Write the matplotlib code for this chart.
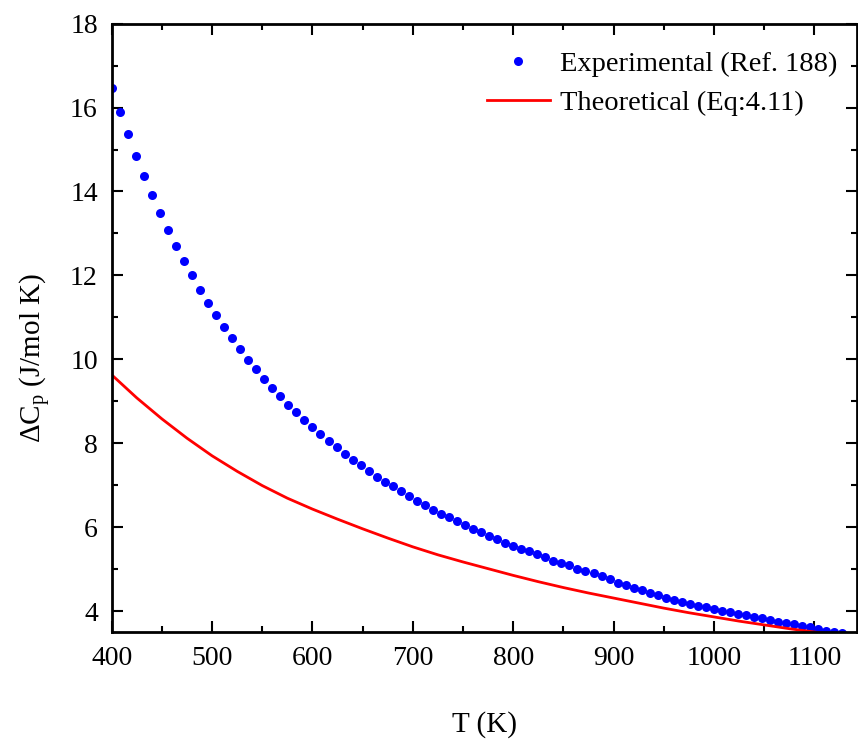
import matplotlib.pyplot as plt
from matplotlib.ticker import MultipleLocator

plt.rcParams['font.family'] = 'Liberation Serif'
plt.rcParams['mathtext.fontset'] = 'custom'
plt.rcParams['mathtext.rm'] = 'Liberation Serif'

# experimental points (Ref. 188)
T_exp = [400, 408, 416, 424, 432, 440, 448, 456, 464, 472,
         480, 488, 496, 504, 512, 520, 528, 536, 544, 552,
         560, 568, 576, 584, 592, 600, 608, 616, 624, 632,
         640, 648, 656, 664, 672, 680, 688, 696, 704, 712,
         720, 728, 736, 744, 752, 760, 768, 776, 784, 792,
         800, 808, 816, 824, 832, 840, 848, 856, 864, 872,
         880, 888, 896, 904, 912, 920, 928, 936, 944, 952,
         960, 968, 976, 984, 992, 1000, 1008, 1016, 1024, 1032,
         1040, 1048, 1056, 1064, 1072, 1080, 1088, 1096, 1104, 1112,
         1120, 1128]
cp_exp = [16.46, 15.89, 15.36, 14.85, 14.36, 13.92, 13.48, 13.08, 12.70, 12.34,
          12.00, 11.66, 11.35, 11.06, 10.77, 10.50, 10.24, 9.99, 9.76, 9.54,
          9.32, 9.12, 8.92, 8.74, 8.56, 8.38, 8.21, 8.05, 7.90, 7.75,
          7.61, 7.47, 7.34, 7.20, 7.08, 6.97, 6.85, 6.74, 6.63, 6.52,
          6.42, 6.32, 6.23, 6.14, 6.04, 5.96, 5.88, 5.79, 5.71, 5.63,
          5.55, 5.49, 5.42, 5.35, 5.28, 5.20, 5.14, 5.09, 5.01, 4.96,
          4.90, 4.84, 4.77, 4.68, 4.62, 4.55, 4.51, 4.44, 4.38, 4.32,
          4.27, 4.21, 4.17, 4.13, 4.09, 4.05, 4.01, 3.98, 3.94, 3.90,
          3.86, 3.83, 3.79, 3.75, 3.71, 3.68, 3.65, 3.61, 3.57, 3.53,
          3.50, 3.48]

# theoretical curve (Eq. 4.11)
T_th = [400, 425, 450, 475, 500, 525, 550, 575, 600, 625,
        650, 675, 700, 725, 750, 775, 800, 825, 850, 875,
        900, 925, 950, 975, 1000, 1025, 1050, 1075, 1100, 1125]
cp_th = [9.63, 9.08, 8.58, 8.12, 7.70, 7.33, 6.99, 6.69, 6.43, 6.19,
         5.96, 5.74, 5.53, 5.34, 5.17, 5.01, 4.85, 4.70, 4.56, 4.43,
         4.31, 4.19, 4.07, 3.96, 3.86, 3.76, 3.67, 3.58, 3.50, 3.42]

fig = plt.figure(figsize=(8.58, 7.44), dpi=100)
ax = fig.add_axes([0.1302, 0.1505, 0.8692, 0.8177])

ax.plot(T_exp, cp_exp, 'o', color='#0000ff', markersize=6.5,
        markeredgewidth=0, label='Experimental (Ref. 188)')
ax.plot(T_th, cp_th, '-', color='#ff0000', linewidth=2,
        label='Theoretical (Eq:4.11)')

ax.set_xlim(400, 1143)
ax.set_ylim(3.5, 18)
ax.xaxis.set_major_locator(MultipleLocator(100))
ax.xaxis.set_minor_locator(MultipleLocator(50))
ax.yaxis.set_major_locator(MultipleLocator(2))
ax.yaxis.set_minor_locator(MultipleLocator(1))
ax.tick_params(which='both', direction='in', top=True, right=True,
               labelsize=20, width=1.5)
ax.tick_params(which='major', length=8, pad=10)
ax.tick_params(which='minor', length=4.5)
for s in ax.spines.values():
    s.set_linewidth(2)

ax.set_xlabel('T (K)', fontsize=21, va='center')
ax.xaxis.set_label_coords(0.5, -0.152)
ax.set_ylabel(r'$\Delta$C$_\mathregular{p}$ (J/mol K)', fontsize=21,
              va='center')
ax.yaxis.set_label_coords(-0.103, 0.45)

ax.legend(loc='upper left', bbox_to_anchor=(0.484, 0.978),
          frameon=False, fontsize=20.5, numpoints=1, handlelength=2.2,
          handletextpad=0.35, borderpad=0, labelspacing=0.45)

fig.savefig('out.png', dpi=100)
